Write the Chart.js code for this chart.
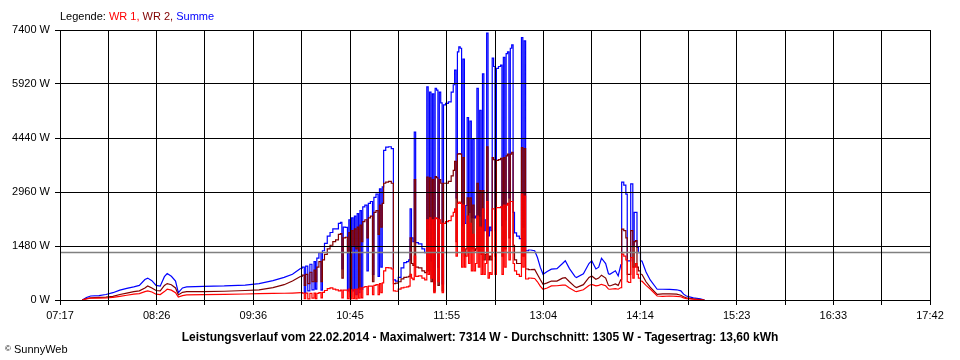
<!DOCTYPE html>
<html>
<head>
<meta charset="utf-8">
<script src="https://cdn.jsdelivr.net/npm/chart.js@4/dist/chart.umd.min.js"></script>
<style>
  body { margin: 0; background: #fff; font-family: "Liberation Sans", Arial, sans-serif; font-size: 11px; color: #000; }
  #wrap { position: relative; width: 960px; height: 360px; overflow: hidden; }
  #chart { position: absolute; left: 0; top: 0; }
  #legend { position: absolute; left: 60px; top: 9px; line-height: 14px; }
  #title { position: absolute; left: 0; top: 330px; width: 960px; text-align: center; font-weight: bold; font-size: 12px; line-height: 14px; }
  #copy { position: absolute; left: 5px; top: 342px; line-height: 14px; }
  #copy small { font-size: 8px; vertical-align: 2px; }
</style>
</head>
<body>
<div id="wrap">
  <canvas id="chart" width="960" height="360"></canvas>
  <div id="legend">Legende: <span style="color:#ff0000">WR 1,</span> <span style="color:#800000">WR 2,</span> <span style="color:#0000ff">Summe</span></div>
  <div id="title">Leistungsverlauf vom 22.02.2014 - Maximalwert: 7314 W - Durchschnitt: 1305 W - Tagesertrag: 13,60 kWh</div>
  <div id="copy"><small>©</small> SunnyWeb</div>
</div>
<script>
const TIME_LABELS = ["07:17", "08:26", "09:36", "10:45", "11:55", "13:04", "14:14", "15:23", "16:33", "17:42"];
const Y_TICKS = [0, 1480, 2960, 4440, 5920, 7400];
const AVERAGE = 1305;
// cloudy periods with fast power changes (drawn as steps)
const SPIKY_PERIODS = [["10:10", "12:55"], ["14:00", "14:15"]];

const TIMES = [
  "07:33","07:36","07:39","07:45","07:50","07:55","08:00","08:05","08:10","08:14",
  "08:18","08:20","08:23","08:26","08:29","08:32","08:34","08:37","08:40","08:42",
  "08:45","08:48","09:00","09:15","09:30","09:40","09:50","09:58","10:04","10:10",
  "10:12","10:13","10:14","10:16","10:17","10:19","10:20","10:21","10:22","10:24",
  "10:25","10:26","10:28","10:30","10:32","10:34","10:36","10:38","10:39","10:40",
  "10:41","10:43","10:44","10:45","10:46","10:47","10:48","10:49","10:50","10:51",
  "10:52","10:53","10:54","10:55","10:57","10:58","10:59","11:01","11:02","11:03",
  "11:05","11:06","11:07","11:08","11:09","11:10","11:12","11:14","11:16","11:17",
  "11:19","11:21","11:23","11:25","11:27","11:28","11:29","11:30","11:31","11:32",
  "11:33","11:36","11:38","11:40","11:41","11:42","11:43","11:44","11:45","11:46",
  "11:47","11:48","11:49","11:50","11:51","11:52","11:53","11:55","11:57","11:59",
  "12:00","12:01","12:02","12:03","12:04","12:05","12:06","12:07","12:08","12:09",
  "12:10","12:11","12:12","12:13","12:14","12:15","12:16","12:17","12:18","12:19",
  "12:20","12:21","12:22","12:23","12:24","12:25","12:26","12:27","12:28","12:29",
  "12:30","12:31","12:33","12:34","12:35","12:36","12:37","12:38","12:39","12:40",
  "12:41","12:42","12:43","12:44","12:46","12:48","12:49","12:50","12:51","12:52",
  "12:55","12:58","13:00","13:02","13:04","13:07","13:10","13:14","13:18","13:20",
  "13:23","13:27","13:28","13:33","13:37","13:39","13:42","13:44","13:46","13:49",
  "13:51","13:52","13:56","13:58","14:00","14:01","14:03","14:04","14:05","14:06",
  "14:08","14:09","14:10","14:11","14:12","14:13","14:15","14:18","14:21","14:26",
  "14:30","14:35","14:40","14:43","14:45","14:47","14:52","14:57","15:00"
];

// WR 1 (W)
const WR1 = [
  0,30,50,50,55,70,100,130,160,175,
  230,250,220,160,150,230,295,270,200,80,
  120,140,150,155,165,175,180,185,190,200,
  190,40,190,30,180,50,190,40,180,200,
  60,210,260,310,330,300,280,250,270,60,
  270,270,40,300,30,280,40,290,30,300,
  50,330,60,350,370,150,380,380,150,400,
  420,150,450,200,470,800,890,880,850,250,
  240,300,330,350,360,380,700,600,560,1200,
  650,660,600,550,2200,700,2250,600,2200,200,
  2250,2230,500,2200,2100,200,2100,2150,2175,2300,
  2400,2500,1200,2650,2680,2650,900,2600,900,1200,
  2300,1000,2100,800,1800,800,1000,2300,900,2000,
  700,2500,700,1000,2700,600,750,700,2500,2500,
  700,2530,2530,2550,700,2600,900,2600,2650,1100,
  2700,2700,1000,800,700,650,2900,900,2850,575,
  600,590,500,380,295,330,385,390,410,410,
  330,240,230,280,400,430,390,400,430,390,
  300,295,310,295,340,1255,1200,1100,500,480,
  1165,600,900,1000,700,600,520,400,300,110,
  100,110,100,90,60,40,20,0,0
];

// WR 2 (W)
const WR2 = [
  0,40,60,70,80,100,150,190,230,250,
  330,385,330,260,250,400,450,420,330,140,
  210,230,230,240,260,280,340,420,520,650,
  680,400,700,450,760,500,820,500,900,1050,
  500,1100,1250,1400,1500,1600,1650,1800,1820,600,
  1700,1720,1300,1850,100,1900,1500,1950,1400,2000,
  300,2050,1600,2150,2200,1700,2250,2300,500,2400,
  2450,1800,2600,2000,2650,3200,3230,3250,3200,450,
  460,500,580,620,630,650,1700,1000,950,3300,
  900,880,800,750,3365,800,3350,500,3300,240,
  3380,3350,400,3300,3200,250,3200,3200,3250,3400,
  3550,3800,1600,4000,4010,4000,1300,3900,1200,1400,
  2800,1300,2800,1400,2600,1350,1400,3200,1300,3000,
  1250,3000,1100,1250,4200,1100,1200,1100,3900,3850,
  1200,3825,3850,3880,1200,3900,1400,3950,4000,1700,
  4000,4050,1500,1100,1000,1000,4180,1200,4150,850,
  830,840,700,560,430,470,520,520,600,615,
  500,360,340,420,620,660,570,600,680,600,
  400,385,440,400,570,1945,1900,1700,700,700,
  1900,900,1600,1625,900,800,705,500,350,155,
  170,170,160,130,90,60,30,10,0
];

// Summe (W)
const SUMME = [
  0,70,110,120,150,200,270,320,360,400,
  560,600,530,400,380,640,725,650,520,200,
  330,360,375,385,410,450,530,620,705,870,
  900,200,930,250,980,280,1050,300,1150,1300,
  270,1350,1550,1750,1850,1950,1950,2100,2125,850,
  2000,1990,250,2200,200,2250,250,2300,150,2365,
  200,2450,300,2550,2600,800,2650,2700,700,2815,
  2900,650,3045,900,3100,4100,4190,4200,4150,550,
  520,620,880,1025,1050,1100,2500,1700,1600,4600,
  1575,1540,1400,1300,5840,1450,5700,1070,5650,440,
  5800,5750,900,5700,5400,440,5350,5390,5430,5700,
  5900,6300,2800,6800,6940,6900,2035,6600,2100,2590,
  5000,2400,4900,2255,4400,2250,2300,5800,2300,5200,
  2000,6200,1900,2200,7314,1760,2000,1900,6630,6400,
  1900,6350,6400,6440,2035,6650,2200,6750,6800,2800,
  6900,6990,2400,1840,1750,1680,7190,2000,7100,1350,
  1370,1350,1165,900,705,780,845,860,1000,1075,
  860,640,615,720,1000,1075,850,900,1145,1000,
  720,705,800,660,980,3230,3150,2900,1075,1075,
  3180,1500,2400,2400,1440,1300,1075,770,550,295,
  295,290,280,250,160,110,60,35,0
];

function toMin(s) {
  const [h, m] = s.split(":").map(Number);
  return h * 60 + m;
}

const X_MIN = toMin(TIME_LABELS[0]);
const X_MAX = toMin(TIME_LABELS[TIME_LABELS.length - 1]);
const X_STEPS = (TIME_LABELS.length - 1) * 2;
const PERIODS = SPIKY_PERIODS.map(p => p.map(toMin));

const inPeriod = x => PERIODS.some(([a, b]) => x >= a && x <= b);
const segInPeriod = ctx => PERIODS.some(([a, b]) => ctx.p0.parsed.x >= a && ctx.p1.parsed.x <= b);

function series(values) {
  return TIMES.map((t, i) => ({ x: toMin(t), y: values[i] }));
}

// each series: smooth part as plain line, cloudy part as steps
function seriesDatasets(label, values, color, order) {
  const points = series(values);
  return [
    {
      label, data: points, borderColor: color, borderWidth: 1.2, order,
      segment: { borderColor: ctx => segInPeriod(ctx) ? "transparent" : color }
    },
    {
      label, data: points.filter(p => inPeriod(p.x)), borderColor: color, borderWidth: 1.2, order,
      stepped: "middle",
      segment: { borderColor: ctx => segInPeriod(ctx) ? color : "transparent" }
    }
  ];
}

const FONT = { family: "'Liberation Sans', Arial, sans-serif", size: 11 };

new Chart(document.getElementById("chart"), {
  type: "line",
  data: {
    datasets: [
      { label: "Durchschnitt", data: [{ x: X_MIN, y: AVERAGE }, { x: X_MAX, y: AVERAGE }], borderColor: "#808080", borderWidth: 1.5, order: 0 },
      ...seriesDatasets("WR 1", WR1, "#ff0000", 1),
      ...seriesDatasets("WR 2", WR2, "#800000", 2),
      ...seriesDatasets("Summe", SUMME, "#0000ff", 3)
    ]
  },
  options: {
    responsive: false,
    animation: false,
    devicePixelRatio: 1,
    layout: { padding: { left: 0, right: 30, top: 30, bottom: 0 } },
    elements: { point: { radius: 0 }, line: { tension: 0 } },
    plugins: { legend: { display: false }, tooltip: { enabled: false } },
    scales: {
      x: {
        type: "linear",
        min: X_MIN,
        max: X_MAX,
        afterBuildTicks: scale => {
          scale.ticks = Array.from({ length: X_STEPS + 1 }, (_, i) => ({ value: X_MIN + (X_MAX - X_MIN) * i / X_STEPS }));
        },
        afterFit: scale => { scale.height = 60; },
        ticks: {
          autoSkip: false,
          maxRotation: 0,
          padding: 4,
          color: "#000",
          font: FONT,
          callback: (value, index) => index % 2 === 0 ? TIME_LABELS[index / 2] : ""
        },
        grid: { color: "#000", lineWidth: 1, tickLength: 5, z: 1 },
        border: { display: false }
      },
      y: {
        min: 0,
        max: Y_TICKS[Y_TICKS.length - 1],
        afterBuildTicks: scale => { scale.ticks = Y_TICKS.map(v => ({ value: v })); },
        afterFit: scale => { scale.width = 60; },
        ticks: { padding: 5, color: "#000", font: FONT, callback: value => value + " W" },
        grid: { color: "#000", lineWidth: 1, tickLength: 5, z: 1 },
        border: { display: false }
      }
    }
  }
});
</script>
</body>
</html>
